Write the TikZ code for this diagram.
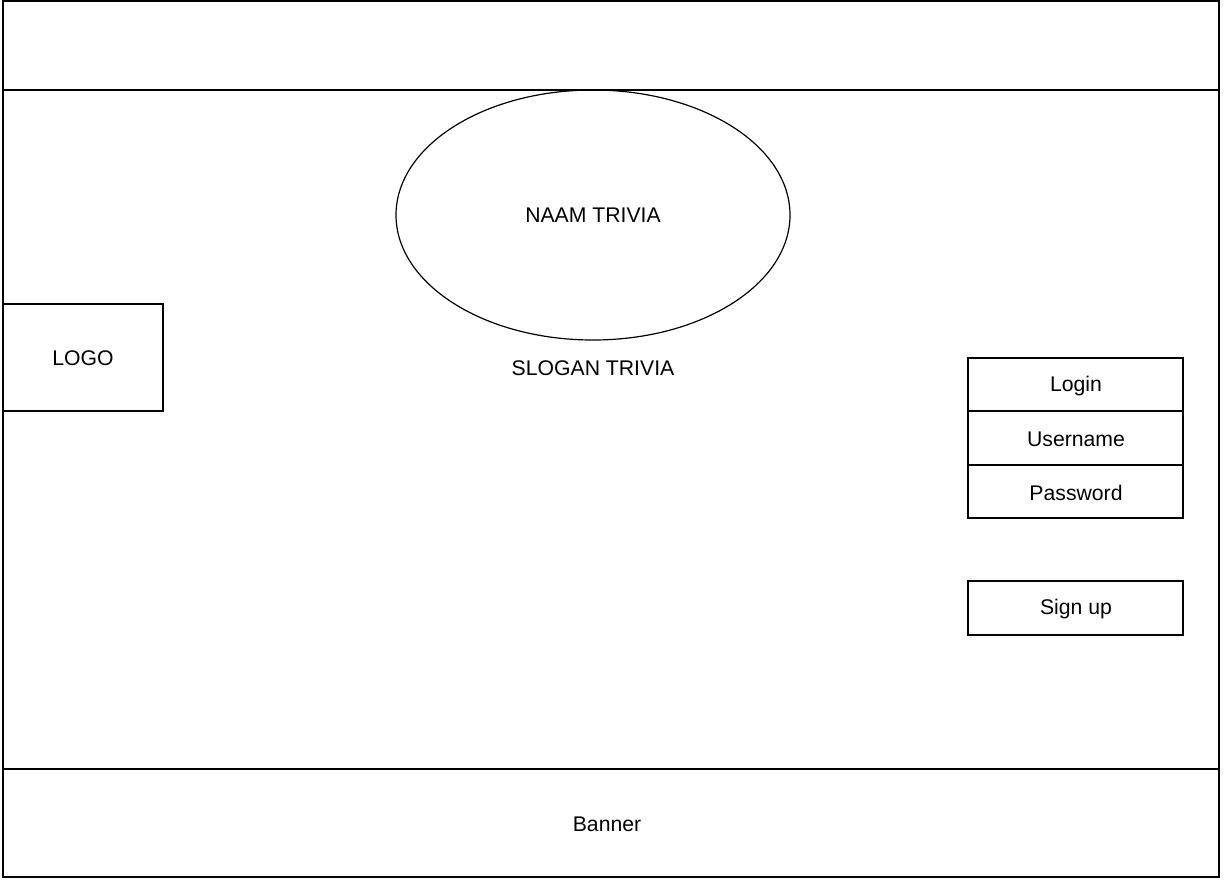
\documentclass[tikz,border=0pt]{standalone}
\usepackage{fontspec}
\setmainfont{Liberation Sans}
\usetikzlibrary{shapes.geometric}
\begin{document}
\begin{tikzpicture}[x=0.5pt,y=-0.5pt,
  thick frame/.style={draw=black,line width=1pt},
  box/.style={draw=black,line width=0.6pt},
  lbl/.style={font=\fontsize{10.6pt}{12pt}\selectfont,inner sep=0pt}]
\useasboundingbox (0,0) rectangle (1224,880);
% regions
\draw[thick frame] (3,1) rectangle (1219,90);
\draw[thick frame] (3,90) rectangle (1219,769);
\draw[thick frame] (3,769) rectangle (1219,877);
\node[lbl] (banner) at (607,824) {Banner};
% title ellipse
\node[draw=black,line width=0.6pt,ellipse,minimum width=197pt,minimum height=125pt,inner sep=0pt,lbl] (title) at (593,215) {NAAM TRIVIA};
\node[lbl] (slogan) at (593,368) {SLOGAN TRIVIA};
% logo
\draw[box] (3,304) rectangle (163,411);
\node[lbl] (logo) at (83,358) {LOGO};
% login stack
\draw[box] (968,358) rectangle (1183,411);
\draw[box] (968,411) rectangle (1183,465);
\draw[box] (968,465) rectangle (1183,518);
\node[lbl] (login) at (1076,386) {Login};
\node[lbl] (user) at (1076,439) {Username};
\node[lbl] (pass) at (1076,493) {Password};
\draw[box] (968,581) rectangle (1183,635);
\node[lbl] (signup) at (1076,609) {Sign up};
\end{tikzpicture}
\end{document}
